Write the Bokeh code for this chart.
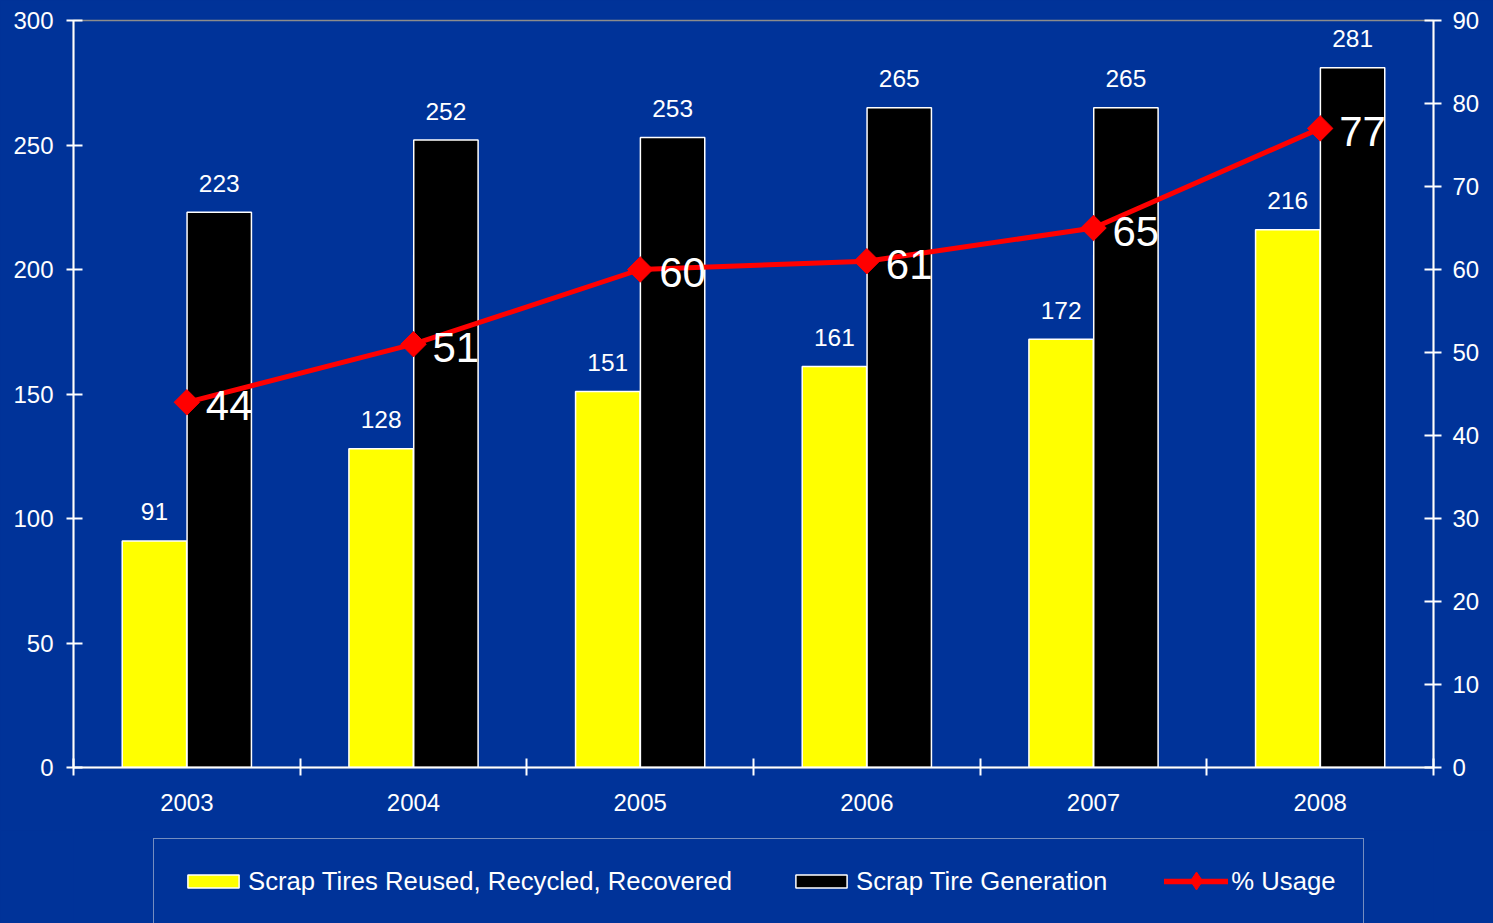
from bokeh.plotting import figure
from bokeh.layouts import column
from bokeh.models import Range1d, LinearAxis, FixedTicker, Legend, LegendItem, ColumnDataSource
from bokeh.core.properties import value
from bokeh.embed import file_html
from bokeh.resources import INLINE

years = ["2003", "2004", "2005", "2006", "2007", "2008"]
recycled = [91, 128, 151, 161, 172, 216]
generated = [223, 252, 253, 265, 265, 281]
usage = [44, 51, 60, 61, 65, 77]
series_names = ["Scrap Tires Reused, Recycled, Recovered", "Scrap Tire Generation", "% Usage"]

BG = "#003399"
FONT = "Liberation Sans"
OFF = 0.143
BW = 0.284
YELLOW = "#FFFF00"
BLACK = "#000000"
RED = "#FF0000"

idx = list(range(len(years)))
src = ColumnDataSource(dict(
    x=idx,
    xl=[i - OFF for i in idx],
    xr=[i + OFF for i in idx],
    rec=recycled,
    gen=generated,
    use=usage,
    rec_t=[str(v) for v in recycled],
    gen_t=[str(v) for v in generated],
    use_t=[str(v) for v in usage],
))

H1 = 830
p = figure(width=1493, height=H1, x_range=Range1d(-0.5, len(years) - 0.5),
           y_range=Range1d(0, 300), output_backend="svg", toolbar_location=None,
           min_border_left=73, min_border_right=60, min_border_top=20,
           min_border_bottom=H1 - 767)
p.extra_y_ranges = {"right": Range1d(0, 90)}
p.background_fill_color = BG
p.border_fill_color = BG
p.outline_line_color = "#8c8c8c"
p.outline_line_width = 1.5
p.xgrid.visible = False
p.ygrid.visible = False

def style(ax, tin=9, tout=7, standoff=12):
    ax.axis_line_color = "white"
    ax.axis_line_width = 2
    ax.major_tick_line_color = "white"
    ax.major_tick_line_width = 2
    ax.major_tick_in = tin
    ax.major_tick_out = tout
    ax.minor_tick_line_color = None
    ax.major_label_text_color = "white"
    ax.major_label_text_font = FONT
    ax.major_label_text_font_size = "24px"
    ax.major_label_standoff = standoff

ly = p.yaxis[0]
ly.ticker = FixedTicker(ticks=list(range(0, 301, 50)))
style(ly, 9, 7, 13)

ry = LinearAxis(y_range_name="right", ticker=FixedTicker(ticks=list(range(0, 91, 10))))
style(ry, 9, 8, 11)
p.add_layout(ry, "right")

xa = p.xaxis[0]
xa.ticker = FixedTicker(ticks=idx, minor_ticks=[i - 0.5 for i in range(len(years) + 1)])
style(xa, 0, 0, 18)
xa.minor_tick_line_color = "white"
xa.minor_tick_line_width = 2
xa.minor_tick_in = 9
xa.minor_tick_out = 8
xa.major_label_overrides = {i: y for i, y in zip(idx, years)}

p.vbar(x="xl", top="rec", width=BW, source=src, fill_color=YELLOW,
       line_color="white", line_width=1.5)
p.vbar(x="xr", top="gen", width=BW, source=src, fill_color=BLACK,
       line_color="white", line_width=1.5)

p.text(x="xl", y="rec", text="rec_t", source=src, text_color="white",
       text_font=value(FONT), text_font_size="24.5px", text_align="center",
       text_baseline="middle", y_offset=-29)
p.text(x="xr", y="gen", text="gen_t", source=src, text_color="white",
       text_font=value(FONT), text_font_size="24.5px", text_align="center",
       text_baseline="middle", y_offset=-29)

p.line(x="x", y="use", source=src, y_range_name="right", line_color=RED, line_width=5)
p.scatter(x="x", y="use", source=src, y_range_name="right", marker="square",
          angle=0.7854, size=18, fill_color=RED, line_color=RED)

p.text(x="x", y="use", text="use_t", source=src, y_range_name="right", text_color="white",
       text_font=value(FONT), text_font_size="42px", text_align="left",
       text_baseline="middle", x_offset=19, y_offset=3)

# legend strip below the chart; its sample renderers sit below the visible range,
# hidden behind the opaque legend box
H2 = 923 - H1
q = figure(width=1493, height=H2, x_range=Range1d(0, 1), y_range=Range1d(0, 1),
           output_backend="svg", toolbar_location=None,
           min_border_left=73, min_border_right=60, min_border_top=0, min_border_bottom=0,
           x_axis_location=None, y_axis_location=None)
q.background_fill_color = BG
q.border_fill_color = BG
q.outline_line_color = None
q.xgrid.visible = False
q.ygrid.visible = False
hid = ColumnDataSource(dict(x=[0.45, 0.55], y=[-50, -51], b=[-51, -51], t=[-50, -50]))
lb1 = q.vbar(x="x", bottom="b", top="t", width=0.04, source=hid, fill_color=YELLOW,
             line_color="white", line_width=1.5)
lb2 = q.vbar(x="x", bottom="b", top="t", width=0.04, source=hid, fill_color=BLACK,
             line_color="white", line_width=1.5)
ll = q.line(x="x", y="y", source=hid, line_color=RED, line_width=5.5, line_cap="round")
ls = q.scatter(x="x", y="y", source=hid, marker="diamond", size=18,
               fill_color=RED, line_color=RED)

legend = Legend(items=[
    LegendItem(label=series_names[0], renderers=[lb1]),
    LegendItem(label=series_names[1], renderers=[lb2]),
    LegendItem(label=series_names[2], renderers=[ll]),
], location=(80, -1), orientation="horizontal")
legend.background_fill_color = BG
legend.background_fill_alpha = 1
legend.border_line_color = "#e8e8e8"
legend.border_line_width = 1.5
legend.label_text_color = "white"
legend.label_text_font = FONT
legend.label_text_font_size = "25.7px"
legend.glyph_width = 64
legend.glyph_height = 16
legend.label_height = 30
legend.label_standoff = 3
legend.spacing = 57
legend.padding = 27
legend.margin = 0
q.add_layout(legend)

# marker of the "% Usage" legend entry, drawn larger on top of its line sample
mk = Legend(items=[LegendItem(label=" ", renderers=[ls])], location=(1091, 20),
            orientation="horizontal")
mk.background_fill_alpha = 0
mk.border_line_color = None
mk.label_text_alpha = 0
mk.label_text_font_size = "1px"
mk.glyph_width = 64
mk.glyph_height = 45
mk.label_height = 30
mk.label_standoff = 0
mk.padding = 0
mk.margin = 0
q.add_layout(mk)

layout = column(p, q, spacing=0)
html = file_html(layout, INLINE)
html = html.replace("<head>", "<head><style>html,body{background:#003399;}</style>", 1)
open("out.html", "w").write(html)
